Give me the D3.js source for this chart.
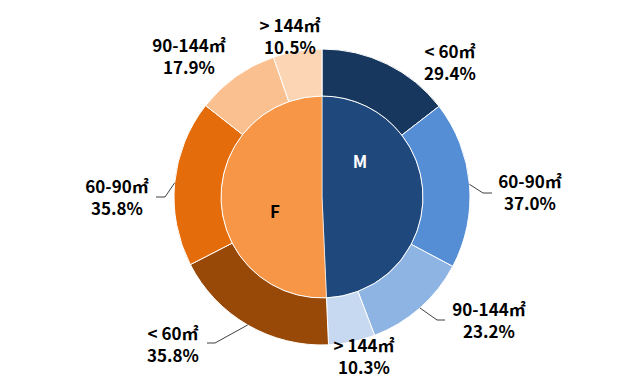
<!DOCTYPE html>
<html>
<head>
<meta charset="utf-8" />
<title>Housing size by gender</title>
<style>
  body { margin: 0; background: #fff; }
  text { font-family: "Noto Sans CJK KR", "Noto Sans", sans-serif; font-weight: bold; }
</style>
</head>
<body>
<script src="https://cdn.jsdelivr.net/npm/d3@7"></script>
<script>
// data
var genders = ['M', 'F'];
var genderShare = [49.3, 50.7];
var sizeCats = ['< 60㎡', '60-90㎡', '90-144㎡', '> 144㎡'];
var maleValues = [29.4, 37.0, 23.2, 10.3];
var femaleValues = [35.8, 35.8, 17.9, 10.5];

var width = 640,
    height = 386,
    cx = 322, cy = 197,
    rInner = 101,
    rOuter = 148;

var innerColors = ['#1f497d', '#f79646'];
var outerColors = [
  ['#17375e', '#558ed5', '#8eb4e3', '#c6d9f1'],
  ['#984807', '#e46c0a', '#fac090', '#fcd5b5']
];

// label layout: text centre x, first baseline y, optional leader elbow
var labelLayout = [
  [{x: 450, y: 58}, {x: 530, y: 188, elbow: [483, 193], end: 492},
   {x: 489, y: 316, elbow: [437, 320], end: 445}, {x: 364, y: 352}],
  [{x: 173, y: 340, elbow: [215, 343], end: 207}, {x: 117, y: 193, elbow: [165, 197], end: 156},
   {x: 189, y: 52}, {x: 290, y: 32}]
];

var svg = d3.select('body').append('svg')
    .attr('width', width)
    .attr('height', height);

var g = svg.append('g').attr('transform', 'translate(' + cx + ',' + cy + ')');

var innerPie = d3.pie().sort(null).value(function(d) { return d; });
var innerArcs = innerPie(genderShare);

var innerArc = d3.arc().innerRadius(0).outerRadius(rInner);
var outerArc = d3.arc().innerRadius(rInner).outerRadius(rOuter);

g.selectAll('.inner')
    .data(innerArcs)
  .enter().append('path')
    .attr('class', 'inner')
    .attr('d', innerArc)
    .attr('fill', function(d, i) { return innerColors[i]; })
    .attr('stroke', '#fff')
    .attr('stroke-width', 0.6);

var series = [maleValues, femaleValues];

series.forEach(function(vals, gi) {
  var slice = innerArcs[gi];
  var pie = d3.pie().sort(null)
      .startAngle(slice.startAngle)
      .endAngle(slice.endAngle)
      .value(function(d) { return d; });
  var arcs = pie(vals);

  g.selectAll('.outer' + gi)
      .data(arcs)
    .enter().append('path')
      .attr('class', 'outer' + gi)
      .attr('d', outerArc)
      .attr('fill', function(d, i) { return outerColors[gi][i]; })
      .attr('stroke', '#fff')
      .attr('stroke-width', 1);

  arcs.forEach(function(a, i) {
    var lay = labelLayout[gi][i];
    if (lay.elbow) {
      var mid = (a.startAngle + a.endAngle) / 2;
      var sx = cx + rOuter * Math.sin(mid),
          sy = cy - rOuter * Math.cos(mid);
      svg.append('polyline')
          .attr('points', [[sx, sy], lay.elbow, [lay.end, lay.elbow[1]]].map(function(p) { return p.join(','); }).join(' '))
          .attr('fill', 'none')
          .attr('stroke', '#404040')
          .attr('stroke-width', 1);
    }
    var t = svg.append('text')
        .attr('x', lay.x)
        .attr('y', lay.y)
        .attr('text-anchor', 'middle')
        .attr('font-size', 17)
        .attr('fill', '#000');
    t.append('tspan').attr('x', lay.x).text(sizeCats[i]);
    t.append('tspan').attr('x', lay.x).attr('dy', 22).text(a.data.toFixed(1) + '%');
  });
});

// gender labels
svg.append('text')
    .attr('x', 360).attr('y', 168)
    .attr('text-anchor', 'middle')
    .attr('font-size', 17)
    .attr('fill', '#fff')
    .text(genders[0]);
svg.append('text')
    .attr('x', 275).attr('y', 218)
    .attr('text-anchor', 'middle')
    .attr('font-size', 17)
    .attr('fill', '#000')
    .text(genders[1]);
</script>
</body>
</html>
